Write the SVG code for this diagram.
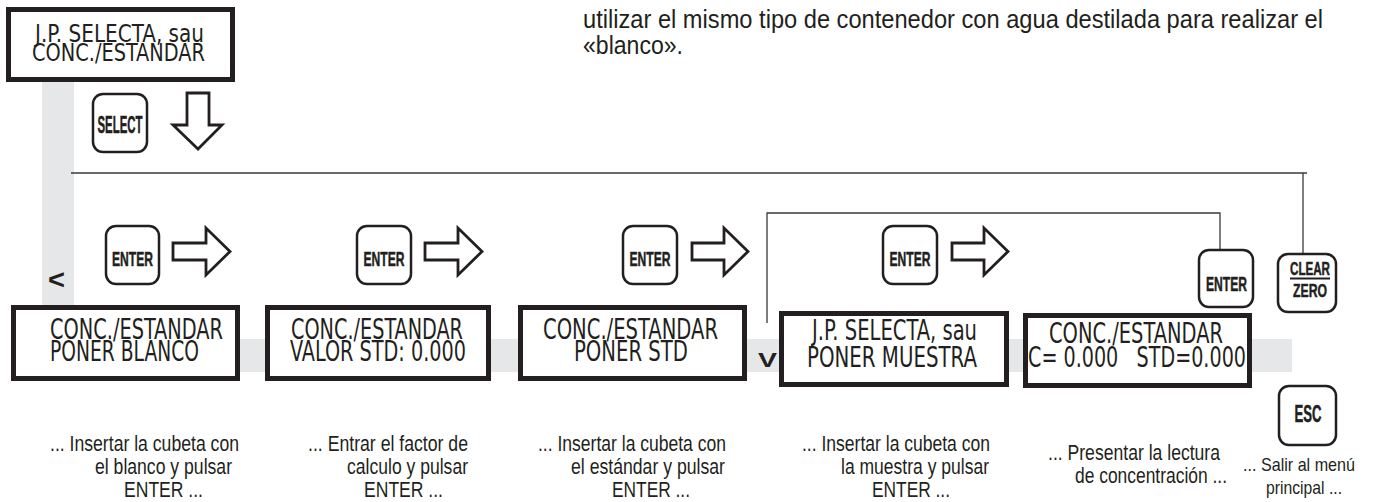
<svg xmlns="http://www.w3.org/2000/svg" width="1376" height="502" viewBox="0 0 1376 502">
<style>
.bg{fill:#e6e7e8}
.box{fill:#fff;stroke:#231f20;stroke-width:5}
.btn{fill:#fff;stroke:#231f20;stroke-width:2.5}
.disp{font-family:"Liberation Sans Narrow","DejaVu Sans Condensed","Liberation Sans",sans-serif;font-size:28px;fill:#231f20}
.disp-s{font-size:25px}
.key{font-family:"Liberation Sans Narrow","Liberation Sans",sans-serif;font-weight:bold;font-size:21px;fill:#231f20;stroke:#231f20;stroke-width:0.5}
.key-l{font-size:23px}
.key-s{font-size:19px}
.note{font-family:"Liberation Sans Narrow","Liberation Sans",sans-serif;font-size:22px;fill:#231f20}
.note-s{font-size:19px}
.para{font-family:"Liberation Sans Narrow","Liberation Sans",Arial,sans-serif;font-size:25px;fill:#231f20}
.sym{font-family:"Liberation Sans",Arial,sans-serif;font-weight:bold;fill:#231f20}
.ln{fill:none;stroke:#3a3a3a;stroke-width:1.3}
.arr{fill:#fff;stroke:#231f20;stroke-width:2.8;stroke-linejoin:miter}
</style>

<g id="background">
<rect class="bg" x="42" y="82" width="32" height="290"/>
<rect class="bg" x="42" y="339" width="1250" height="33"/>
</g>

<g id="paragraph">
<text class="para" x="583" y="28" textLength="740" lengthAdjust="spacingAndGlyphs">utilizar el mismo tipo de contenedor con agua destilada para realizar el</text>
<text class="para" x="583" y="54" textLength="100" lengthAdjust="spacingAndGlyphs">«blanco».</text>
</g>

<g id="connectors">
<polyline class="ln" points="71,173 1307,173"/>
<polyline class="ln" points="1303,173 1303,253"/>
<polyline class="ln" points="767,323 767,213 1220,213 1220,249"/>
<polygon class="arr" points="187,93 209,93 209,125 222,125 198,149 173,125 187,125"/>
<polygon class="arr" points="173,243 206,243 206,228 230,251.5 206,275 206,260 173,260"/>
<polygon class="arr" points="425,243 458,243 458,228 482,251.5 458,275 458,260 425,260"/>
<polygon class="arr" points="692,243 724,243 724,228 748,251.5 724,275 724,260 692,260"/>
<polygon class="arr" points="952,243 984,243 984,228 1008,251.5 984,275 984,260 952,260"/>
<text class="sym" x="48" y="289" style="font-size:28px" textLength="17" lengthAdjust="spacingAndGlyphs">&lt;</text>
<text class="sym" x="758" y="367" style="font-size:20px" textLength="19" lengthAdjust="spacingAndGlyphs">V</text>
</g>

<g id="display-main">
<rect class="box" x="8.5" y="9.5" width="224" height="70"/>
<text class="disp disp-s" x="35" y="42" textLength="169" lengthAdjust="spacingAndGlyphs">J.P. SELECTA, sau</text>
<text class="disp disp-s" x="32" y="61" textLength="173" lengthAdjust="spacingAndGlyphs">CONC./ESTANDAR</text>
</g>

<g id="key-select">
<rect class="btn" x="93" y="94" width="54" height="58" rx="10"/>
<text class="key key-l" x="120" y="133" text-anchor="middle" textLength="45" lengthAdjust="spacingAndGlyphs">SELECT</text>
</g>

<g id="key-enter-1">
<rect class="btn" x="106" y="226" width="53" height="58" rx="10"/>
<text class="key" x="132.5" y="266" text-anchor="middle" textLength="41" lengthAdjust="spacingAndGlyphs">ENTER</text>
</g>
<g id="key-enter-2">
<rect class="btn" x="357" y="226" width="54" height="58" rx="10"/>
<text class="key" x="384" y="266" text-anchor="middle" textLength="41" lengthAdjust="spacingAndGlyphs">ENTER</text>
</g>
<g id="key-enter-3">
<rect class="btn" x="623" y="226" width="54" height="58" rx="10"/>
<text class="key" x="650" y="266" text-anchor="middle" textLength="41" lengthAdjust="spacingAndGlyphs">ENTER</text>
</g>
<g id="key-enter-4">
<rect class="btn" x="883" y="226" width="54" height="58" rx="10"/>
<text class="key" x="910" y="266" text-anchor="middle" textLength="41" lengthAdjust="spacingAndGlyphs">ENTER</text>
</g>
<g id="key-enter-5">
<rect class="btn" x="1199" y="250" width="54" height="57" rx="10"/>
<text class="key" x="1226.5" y="291" text-anchor="middle" textLength="41" lengthAdjust="spacingAndGlyphs">ENTER</text>
</g>
<g id="key-clear-zero">
<rect class="btn" x="1278" y="254" width="58" height="58" rx="10"/>
<text class="key key-s" x="1310" y="275" text-anchor="middle" textLength="40" lengthAdjust="spacingAndGlyphs">CLEAR</text>
<line x1="1290" y1="278.5" x2="1330" y2="278.5" stroke="#231f20" stroke-width="1.8"/>
<text class="key key-s" x="1310" y="297" text-anchor="middle" textLength="34" lengthAdjust="spacingAndGlyphs">ZERO</text>
</g>
<g id="key-esc">
<rect class="btn" x="1279" y="386" width="57" height="59" rx="10"/>
<text class="key key-l" x="1308" y="422" text-anchor="middle" textLength="27" lengthAdjust="spacingAndGlyphs">ESC</text>
</g>

<g id="display-blanco">
<rect class="box" x="13.5" y="307.5" width="224" height="71"/>
<text class="disp" x="50" y="339" textLength="173" lengthAdjust="spacingAndGlyphs">CONC./ESTANDAR</text>
<text class="disp" x="50" y="361" textLength="149" lengthAdjust="spacingAndGlyphs">PONER BLANCO</text>
</g>
<g id="display-valor">
<rect class="box" x="267.5" y="307.5" width="221" height="71"/>
<text class="disp" x="291" y="339" textLength="172" lengthAdjust="spacingAndGlyphs">CONC./ESTANDAR</text>
<text class="disp" x="290" y="361" textLength="176" lengthAdjust="spacingAndGlyphs">VALOR STD: 0.000</text>
</g>
<g id="display-std">
<rect class="box" x="520.5" y="307.5" width="224" height="71"/>
<text class="disp" x="543" y="339" textLength="175" lengthAdjust="spacingAndGlyphs">CONC./ESTANDAR</text>
<text class="disp" x="574" y="361" textLength="114" lengthAdjust="spacingAndGlyphs">PONER STD</text>
</g>
<g id="display-muestra">
<rect class="box" x="781.5" y="313.5" width="225" height="71"/>
<text class="disp" x="812" y="340" textLength="165" lengthAdjust="spacingAndGlyphs">J.P. SELECTA, sau</text>
<text class="disp" x="807" y="367" textLength="170" lengthAdjust="spacingAndGlyphs">PONER MUESTRA</text>
</g>
<g id="display-result">
<rect class="box" x="1025.5" y="315.5" width="224" height="70"/>
<text class="disp" x="1049" y="343" textLength="174" lengthAdjust="spacingAndGlyphs">CONC./ESTANDAR</text>
<text class="disp" x="1028" y="367" textLength="218" lengthAdjust="spacingAndGlyphs" xml:space="preserve">C= 0.000   STD=0.000</text>
</g>

<g id="note-1">
<text class="note" x="50" y="451" textLength="189" lengthAdjust="spacingAndGlyphs">... Insertar la cubeta con</text>
<text class="note" x="95" y="474" textLength="137" lengthAdjust="spacingAndGlyphs">el blanco y pulsar</text>
<text class="note" x="124" y="497" textLength="79" lengthAdjust="spacingAndGlyphs">ENTER ...</text>
</g>
<g id="note-2">
<text class="note" x="308" y="451" textLength="160" lengthAdjust="spacingAndGlyphs">... Entrar el factor de</text>
<text class="note" x="347" y="474" textLength="121" lengthAdjust="spacingAndGlyphs">calculo y pulsar</text>
<text class="note" x="364" y="497" textLength="79" lengthAdjust="spacingAndGlyphs">ENTER ...</text>
</g>
<g id="note-3">
<text class="note" x="538" y="451" textLength="188" lengthAdjust="spacingAndGlyphs">... Insertar la cubeta con</text>
<text class="note" x="571" y="474" textLength="154" lengthAdjust="spacingAndGlyphs">el estándar y pulsar</text>
<text class="note" x="612" y="497" textLength="78" lengthAdjust="spacingAndGlyphs">ENTER ...</text>
</g>
<g id="note-4">
<text class="note" x="802" y="451" textLength="188" lengthAdjust="spacingAndGlyphs">... Insertar la cubeta con</text>
<text class="note" x="841" y="474" textLength="148" lengthAdjust="spacingAndGlyphs">la muestra y pulsar</text>
<text class="note" x="872" y="497" textLength="78" lengthAdjust="spacingAndGlyphs">ENTER ...</text>
</g>
<g id="note-5">
<text class="note" x="1048" y="460" textLength="172" lengthAdjust="spacingAndGlyphs">... Presentar la lectura</text>
<text class="note" x="1075" y="483" textLength="152" lengthAdjust="spacingAndGlyphs">de concentración ...</text>
</g>
<g id="note-6">
<text class="note note-s" x="1243" y="471" textLength="112" lengthAdjust="spacingAndGlyphs">... Salir al menú</text>
<text class="note note-s" x="1266" y="494" textLength="76" lengthAdjust="spacingAndGlyphs">principal ...</text>
</g>
</svg>
